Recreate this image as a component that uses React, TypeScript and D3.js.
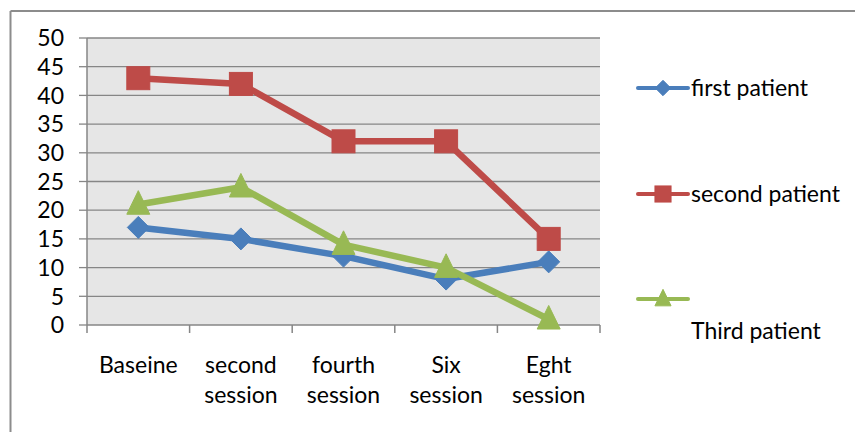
import React from "react";
import * as d3 from "d3";

const categories = [["Baseine"], ["second", "session"], ["fourth", "session"], ["Six", "session"], ["Eght", "session"]];
const firstPatient = [17, 15, 12, 8, 11];
const secondPatient = [43, 42, 32, 32, 15];
const thirdPatient = [21, 24, 14, 10, 1];
const yTicks = [0, 5, 10, 15, 20, 25, 30, 35, 40, 45, 50];
const seriesNames = ["first patient", "second patient", "Third patient"];

const W = 855, H = 432;
const plot = { l: 87, r: 600, t: 38, b: 325 };
const FONT = "Lato, 'Open Sans', sans-serif";
const FS = 23;

const colors = ["#4A7EBB", "#BE4B48", "#98B954"];

function Marker({ kind, x, y, color, s = 1 }: { kind: number; x: number; y: number; color: string; s?: number }) {
  if (kind === 0) {
    const r = 11 * s;
    return <path d={`M${x},${y - r}L${x + r},${y}L${x},${y + r}L${x - r},${y}Z`} fill={color} stroke={color} strokeWidth={1} />;
  }
  if (kind === 1) {
    const h = 11.5 * s;
    return <rect x={x - h} y={y - h} width={2 * h} height={2 * h} fill={color} stroke={color} strokeWidth={1} />;
  }
  const h = 11.5 * s;
  return <path d={`M${x},${y - h * 1.2}L${x + h},${y + h * 0.85}L${x - h},${y + h * 0.85}Z`} fill={color} stroke={color} strokeWidth={1} />;
}

export default function App() {
  const x = d3.scaleBand<number>().domain(d3.range(categories.length)).range([plot.l, plot.r]);
  const y = d3.scaleLinear().domain([0, 50]).range([plot.b, plot.t]);
  const cx = (i: number) => (x(i) as number) + x.bandwidth() / 2;
  const series = [firstPatient, secondPatient, thirdPatient];
  const line = d3.line<number>().x((_, i) => cx(i)).y((d) => y(d));

  const legendY = [88, 194, 299];

  return (
    <svg width={W} height={H} style={{ position: "absolute", left: 0, top: 0, background: "#fff" }}>
      <line x1={10.5} y1={11} x2={W} y2={11} stroke="#8c8c8c" strokeWidth={2} />
      <line x1={10.5} y1={11} x2={10.5} y2={H} stroke="#8c8c8c" strokeWidth={2} />
      <rect x={plot.l} y={plot.t} width={plot.r - plot.l} height={plot.b - plot.t} fill="#E6E6E6" />
      {yTicks.map((t) => (
        <g key={t}>
          <line x1={plot.l} x2={plot.r} y1={y(t)} y2={y(t)} stroke="#868686" strokeWidth={1.3} />
          <line x1={79} x2={plot.l} y1={y(t)} y2={y(t)} stroke="#868686" strokeWidth={1.3} />
          <text x={64} y={y(t)} dy="0.36em" textAnchor="end" fontFamily={FONT} fontSize={FS} fill="#000">{t}</text>
        </g>
      ))}
      <line x1={plot.l} x2={plot.l} y1={plot.t} y2={plot.b} stroke="#868686" strokeWidth={1.5} />
      {d3.range(categories.length + 1).map((i) => {
        const xx = plot.l + i * x.bandwidth();
        return <line key={i} x1={xx} x2={xx} y1={plot.b} y2={333} stroke="#868686" strokeWidth={1.5} />;
      })}
      {categories.map((c, i) => (
        <text key={i} x={cx(i)} textAnchor="middle" fontFamily={FONT} fontSize={FS} fill="#000">
          {c.map((s, j) => (
            <tspan key={j} x={cx(i)} y={373 + j * 30}>{s}</tspan>
          ))}
        </text>
      ))}
      {series.map((s, k) => (
        <g key={k}>
          <path d={line(s) || ""} fill="none" stroke={colors[k]} strokeWidth={6.5} strokeLinejoin="round" strokeLinecap="round" />
          {s.map((v, i) => <Marker key={i} kind={k} x={cx(i)} y={y(v)} color={colors[k]} />)}
        </g>
      ))}
      {seriesNames.map((n, k) => (
        <g key={n}>
          <line x1={638} x2={688} y1={legendY[k]} y2={legendY[k]} stroke={colors[k]} strokeWidth={4} strokeLinecap="round" />
          <Marker kind={k} x={663} y={legendY[k]} color={colors[k]} s={0.7} />
          <text x={691} y={k === 2 ? 331 : legendY[k]} dy="0.36em" fontFamily={FONT} fontSize={FS} fill="#000">{n}</text>
        </g>
      ))}
    </svg>
  );
}
